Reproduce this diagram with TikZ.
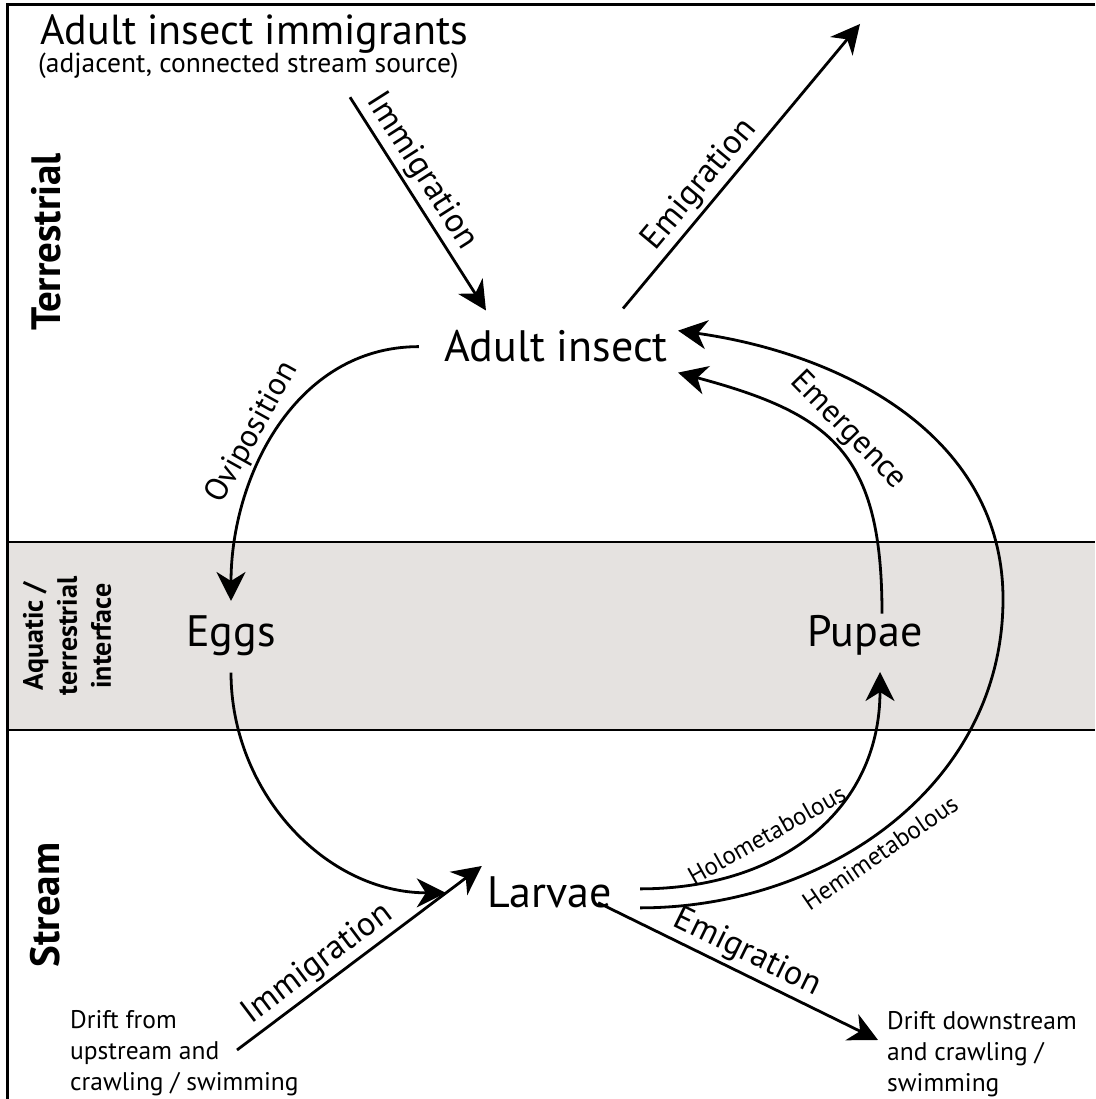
\documentclass[tikz,border=0pt]{standalone}
\usepackage{fontspec}
\setmainfont{PT Sans}
\usetikzlibrary{arrows.meta}
\definecolor{bandgray}{RGB}{229,226,224}

\begin{document}
\begin{tikzpicture}[x=1pt,y=1pt,
  flow/.style={line width=2.8pt,-{Stealth[length=29pt,width=29pt,inset=9pt]}},
  stage/.style={font=\fontsize{44}{50}\selectfont,inner sep=0pt,anchor=base},
  zone/.style={font=\fontsize{41}{44}\selectfont\bfseries,rotate=90},
  flowlab/.style={font=\fontsize{32}{35}\selectfont,sloped},
  movelab/.style={font=\fontsize{34}{37}\selectfont,sloped},
  morphlab/.style={font=\fontsize{25}{28}\selectfont,sloped},
  drift/.style={font=\fontsize{25.5}{31}\selectfont,align=left,inner sep=0pt,anchor=north west}]
\useasboundingbox (0,0) rectangle (1095,1099);
\fill[bandgray] (7,369) rectangle (1095,557);
\draw[line width=2.5pt] (7,369) -- (1095,369);
\draw[line width=2.5pt] (7,557) -- (1095,557);
\draw[line width=3pt] (1095,1094) -- (7,1094) -- (7,0);

\node[zone] (terr) at (46,857) {Terrestrial};
\node[zone,font=\fontsize{28}{34}\selectfont\bfseries,align=center] (iface) at (67,463) {Aquatic /\\terrestrial\\interface};
\node[zone] (strm) at (45,194) {Stream};

\node[font=\fontsize{42}{46}\selectfont,inner sep=0pt,anchor=base west] (immig) at (40,1054) {Adult insect immigrants};
\node[font=\fontsize{27.5}{30}\selectfont,inner sep=0pt,anchor=base west] (immsrc) at (38,1026) {(adjacent, connected stream source)};
\node[stage] (adult) at (556,737) {Adult insect};
\node[stage] (eggs) at (231,452) {Eggs};
\node[stage] (pupae) at (865,452) {Pupae};
\node[stage] (larvae) at (550,191) {Larvae};
\node[drift] (upsrc) at (70,89) {Drift from\\upstream and\\crawling / swimming};
\node[drift] (downsrc) at (887,88) {Drift downstream\\and crawling /\\swimming};
\coordinate (away) at (860,1075);

\draw[flow] ([xshift=312pt,yshift=-18pt]immsrc.south west) -- node[movelab,pos=0.4,above]{Immigration} ([xshift=42pt,yshift=20pt]adult.north west);
\draw[flow] ([xshift=-45pt,yshift=22pt]adult.north east) -- node[movelab,pos=0.39,above]{Emigration} (away);
\draw[flow] ([xshift=-25pt]adult.west) to[out=180,in=90] node[flowlab,pos=0.55,above]{Oviposition} ([yshift=15pt]eggs.north);
\draw[flow] ([yshift=-16pt]eggs.south) to[out=-90,in=180] ([xshift=-42pt]larvae.west);
\draw[flow] ([xshift=28pt,yshift=4pt]larvae.east) to[out=0,in=-90,looseness=1.1] node[morphlab,pos=0.38,above=11pt]{Holometabolous} ([xshift=15pt,yshift=-16pt]pupae.south);
\draw[flow] ([xshift=28pt,yshift=-15pt]larvae.east) to[out=0,in=-90] node[morphlab,pos=0.45,below=3pt]{Hemimetabolous} (1003,500) to[out=90,in=-8] ([xshift=10pt,yshift=16pt]adult.east);
\draw[flow] ([xshift=17pt,yshift=2pt]pupae.north) to[out=90,in=-15,looseness=1.3] node[flowlab,pos=0.52,above]{Emergence} ([xshift=10pt,yshift=-26pt]adult.east);
\draw[flow] ([xshift=167pt,yshift=-40pt]upsrc.north west) -- node[movelab,pos=0.38,above]{Immigration} ([xshift=-6pt,yshift=11pt]larvae.north west);
\draw[flow] ([xshift=-14pt,yshift=6pt]larvae.south east) -- node[movelab,pos=0.5,above]{Emigration} ([xshift=-9pt,yshift=-29pt]downsrc.north west);
\end{tikzpicture}
\end{document}
